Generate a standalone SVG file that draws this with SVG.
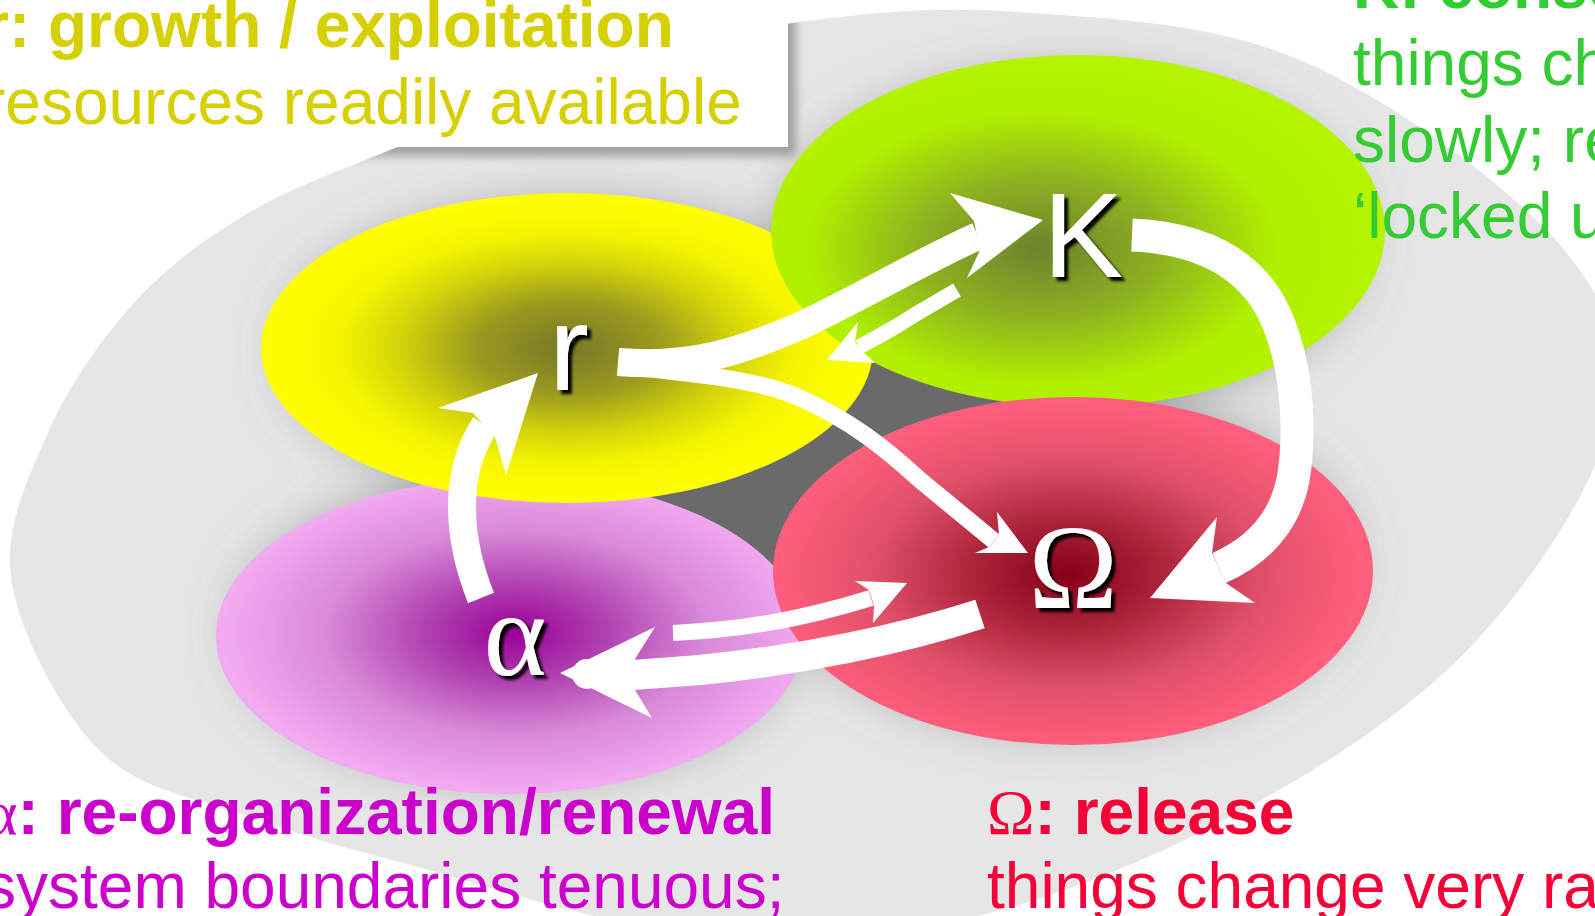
<svg xmlns="http://www.w3.org/2000/svg" width="1595" height="916" viewBox="0 0 1595 916">
<defs>
<style>
.lbl{font-family:"Liberation Sans",Arial,sans-serif;font-size:64px}
.b{font-weight:bold}
.serif{font-family:"Liberation Serif","Times New Roman",serif;font-weight:normal}
.node-lbl{fill:#fff;font-size:120px;filter:url(#sh)}
.shaft{fill:none;stroke:#fff;stroke-linecap:butt;stroke-linejoin:round}
.head{fill:#fff}
</style>
<filter id="sh" x="-20%" y="-20%" width="150%" height="150%">
<feDropShadow dx="4" dy="4" stdDeviation="1.5" flood-color="#000" flood-opacity="1"/>
</filter>
<filter id="boxsh" x="-10%" y="-10%" width="130%" height="140%">
<feGaussianBlur stdDeviation="5"/>
</filter>
<filter id="blur" x="-30%" y="-30%" width="160%" height="160%">
<feGaussianBlur stdDeviation="32"/>
</filter>
<clipPath id="bgClip">
<path id="bgShape" d="M793,23 C862.5,13.3 932.5,5.8 1017,12 C1101.5,18.2 1209.5,21.2 1300,60 C1390.5,98.8 1508.3,185 1560,245 C1611.7,305 1624.2,353.8 1610,420 C1595.8,486.2 1534.8,577.7 1475,642 C1415.2,706.3 1334,760.3 1251,806 C1168,851.7 1068.8,894.5 977,916 C885.2,937.5 795,943.7 700,935 C605,926.3 481.3,883.5 407,864 C332.7,844.5 304.8,836.5 254,818 C203.2,799.5 142.3,792 102,753 C61.7,714 21.3,636.7 12,584 C2.7,531.3 26,483.5 46,437 C66,390.5 98.8,342 132,305 C165.2,268 202,240.8 245,215 C288,189.2 330.8,174.2 390,150 C449.2,125.8 532.8,91.2 600,70 C667.2,48.8 723.5,32.7 793,23 Z"/>
</clipPath>
<radialGradient id="gV" cx="0.51" cy="0.49" r="0.5">
<stop offset="0" stop-color="#990099"/>
<stop offset="0.3" stop-color="#b040b0"/>
<stop offset="0.65" stop-color="#d98ad9"/>
<stop offset="1" stop-color="#f2aaf2"/>
</radialGradient>
<radialGradient id="gY" cx="0.5" cy="0.5" r="0.5">
<stop offset="0" stop-color="#77772a"/>
<stop offset="0.3" stop-color="#9a9a1e"/>
<stop offset="0.55" stop-color="#d4d40a"/>
<stop offset="0.75" stop-color="#f5f500"/>
<stop offset="1" stop-color="#ffff00"/>
</radialGradient>
<radialGradient id="gG" cx="0.44" cy="0.55" r="0.55">
<stop offset="0" stop-color="#6a842e"/>
<stop offset="0.35" stop-color="#8cb020"/>
<stop offset="0.7" stop-color="#b0f000"/>
<stop offset="1" stop-color="#b4f400"/>
</radialGradient>
<radialGradient id="gR" cx="0.49" cy="0.51" r="0.5">
<stop offset="0" stop-color="#880018"/>
<stop offset="0.3" stop-color="#aa2238"/>
<stop offset="0.65" stop-color="#e0506a"/>
<stop offset="1" stop-color="#ff5f7c"/>
</radialGradient>
</defs>

<rect width="1595" height="916" fill="#fff"/>

<g id="background" clip-path="url(#bgClip)">
<rect width="1595" height="916" fill="#e6e6e6"/>
<g filter="url(#blur)" fill="#6a6a6a">
<ellipse cx="515" cy="630" rx="262" ry="132"/>
<ellipse cx="575" cy="350" rx="274" ry="130"/>
<ellipse cx="1070" cy="240" rx="275" ry="150"/>
<ellipse cx="1068" cy="565" rx="268" ry="148"/>
<ellipse cx="830" cy="450" rx="230" ry="175"/>
</g>
<rect x="-10" y="-10" width="806" height="166" fill="#a0a0a0" filter="url(#boxsh)"/>
</g>

<g id="title-box">
<rect x="-10" y="-10" width="798" height="157" fill="#fff"/>
<text class="lbl b" x="-16" y="47" fill="#d6d000">r: growth / exploitation</text>
<text class="lbl" x="-16" y="124" fill="#d6d000">resources readily available</text>
</g>

<g id="node-alpha">
<ellipse cx="510" cy="636" rx="294" ry="158" fill="url(#gV)"/>
<text class="serif node-lbl" x="515" y="675" text-anchor="middle">α</text>
</g>

<g id="node-r">
<ellipse cx="567" cy="348" rx="306" ry="155" fill="url(#gY)"/>
<text class="lbl node-lbl" x="549" y="390">r</text>
</g>

<g id="node-K">
<ellipse cx="1078" cy="231" rx="307" ry="176" fill="url(#gG)"/>
<text class="lbl node-lbl" x="1043" y="277">K</text>
</g>

<g id="node-omega">
<ellipse cx="1073" cy="571" rx="300" ry="174" fill="url(#gR)"/>
<text class="serif node-lbl" x="1073" y="608" text-anchor="middle">Ω</text>
</g>

<g id="connectors">
<!-- alpha -> r -->
<path class="shaft" stroke-width="28" d="M481,598 C458,540 452,475 485,425"/>
<polygon class="head" points="538,373 438,408 473,413 495,437 506,475"/>
<!-- r -> K -->
<path class="shaft" stroke-width="28" d="M618,362 C690,368 740,352 800,326 C860,298 920,262 978,236"/>
<polygon class="head" points="1043,220 950,193 974,221 980,250 967,278"/>
<!-- K -> r (thin) -->
<path class="shaft" stroke-width="15" d="M957,290 C935,303 915,314 900,324 C885,333 872,340 859,347"/>
<polygon class="head" points="827,360 858,322 855,342 863,352 875,363"/>
<!-- r -> Omega -->
<path class="shaft" stroke-width="17" d="M622,366 C700,374 760,380 800,398 C850,420 885,448 920,480 L994,541"/>
<polygon class="head" points="1028,553 997,512 999,535 989,547 975,553"/>
<!-- K -> Omega -->
<path class="shaft" stroke-width="33" d="M1132,235 C1200,238 1250,262 1275,315 C1300,370 1300,440 1293,480 C1285,520 1260,550 1219,568"/>
<polygon class="head" points="1150,598 1217,517 1212,553 1226,583 1255,603"/>
<!-- Omega -> alpha -->
<path class="shaft" stroke-width="30" d="M980,614 C900,640 800,660 700,670 L633,675"/>
<polygon class="head" points="560,673 655,627 635,659 635,690 652,718"/>
<circle class="head" cx="587" cy="674" r="15"/>
<!-- alpha -> Omega (thin) -->
<path class="shaft" stroke-width="16" d="M673,633 C740,630 800,620 871,598"/>
<polygon class="head" points="907,583 855,581 869,590 874,606 873,623"/>
</g>

<g id="label-K">
<text class="lbl b" x="1353" y="8" fill="#33cc33">K: conservation</text>
<text class="lbl" x="1353" y="85" fill="#33cc33">things change</text>
<text class="lbl" x="1353" y="162" fill="#33cc33">slowly; resources</text>
<text class="lbl" x="1353" y="238" fill="#33cc33">‘locked up’</text>
</g>

<g id="label-alpha">
<text class="lbl b" x="-16" y="834" fill="#cc00cc"><tspan class="serif">α</tspan>: re-organization/renewal</text>
<text class="lbl" x="-16" y="908" fill="#cc00cc">system boundaries tenuous;</text>
</g>

<g id="label-omega">
<text class="lbl b" x="987" y="834" fill="#f50037"><tspan class="serif">Ω</tspan>: release</text>
<text class="lbl" x="987" y="908" fill="#f50037">things change very rapidly</text>
</g>
</svg>
